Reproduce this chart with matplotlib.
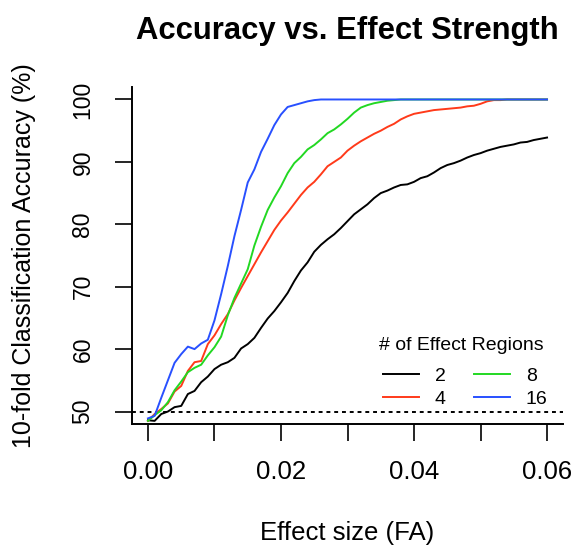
import numpy as np
import matplotlib
matplotlib.use("Agg")
import matplotlib.pyplot as plt

plt.rcParams['font.family'] = ['Liberation Sans', 'DejaVu Sans']

# effect size grid (FA)
effect_size = np.round(np.arange(61) * 0.001, 3)

acc_2 = [48.6, 48.5, 49.6, 50.0, 50.7, 50.9, 52.8, 53.3, 54.7, 55.6,
         56.8, 57.5, 57.9, 58.6, 60.1, 60.8, 61.8, 63.4, 64.9, 66.1,
         67.5, 69.0, 70.9, 72.6, 73.9, 75.6, 76.7, 77.6, 78.4, 79.4,
         80.5, 81.6, 82.4, 83.2, 84.2, 85.0, 85.4, 85.9, 86.3, 86.4,
         86.8, 87.4, 87.7, 88.3, 89.0, 89.5, 89.8, 90.2, 90.7, 91.1,
         91.4, 91.8, 92.1, 92.4, 92.6, 92.8, 93.1, 93.2, 93.5, 93.7,
         93.9]
acc_4 = [48.5, 49.6, 50.4, 51.3, 53.2, 54.1, 56.5, 57.9, 58.1, 60.8,
         62.2, 64.0, 65.6, 67.8, 69.8, 71.7, 73.6, 75.5, 77.3, 79.1,
         80.6, 81.9, 83.3, 84.7, 85.9, 86.8, 88.0, 89.3, 90.0, 90.7,
         91.8, 92.6, 93.3, 93.9, 94.5, 95.0, 95.6, 96.1, 96.8, 97.3,
         97.7, 97.9, 98.1, 98.3, 98.4, 98.5, 98.6, 98.7, 98.9, 99.0,
         99.3, 99.7, 99.9, 99.9, 100.0, 100.0, 100.0, 100.0, 100.0, 100.0,
         100.0]
acc_8 = [48.5, 49.4, 50.2, 51.5, 53.4, 54.8, 56.3, 57.0, 57.5, 59.0,
         60.3, 62.0, 65.4, 68.2, 70.5, 72.8, 76.6, 79.6, 82.3, 84.3,
         86.1, 88.2, 89.8, 90.8, 92.0, 92.7, 93.6, 94.6, 95.2, 96.0,
         96.9, 97.9, 98.7, 99.1, 99.4, 99.6, 99.8, 99.9, 100.0, 100.0,
         100.0, 100.0, 100.0, 100.0, 100.0, 100.0, 100.0, 100.0, 100.0, 100.0,
         100.0, 100.0, 100.0, 100.0, 100.0, 100.0, 100.0, 100.0, 100.0, 100.0,
         100.0]
acc_16 = [48.9, 49.3, 52.2, 55.0, 57.8, 59.2, 60.4, 60.0, 60.9, 61.5,
          64.6, 68.8, 73.3, 78.1, 82.3, 86.7, 88.8, 91.6, 93.7, 95.9,
          97.6, 98.8, 99.1, 99.4, 99.7, 99.9, 100.0, 100.0, 100.0, 100.0,
          100.0, 100.0, 100.0, 100.0, 100.0, 100.0, 100.0, 100.0, 100.0, 100.0,
          100.0, 100.0, 100.0, 100.0, 100.0, 100.0, 100.0, 100.0, 100.0, 100.0,
          100.0, 100.0, 100.0, 100.0, 100.0, 100.0, 100.0, 100.0, 100.0, 100.0,
          100.0]

region_labels = ["2", "4", "8", "16"]
colors = ["black", "#FF3A1A", "#22D822", "#2850FF"]

x_ticks = [0.00, 0.01, 0.02, 0.03, 0.04, 0.05, 0.06]
x_ticklabels = ["0.00", "", "0.02", "", "0.04", "", "0.06"]
y_ticks = [50, 60, 70, 80, 90, 100]

W, H = 572, 547
fig = plt.figure(figsize=(W / 100, H / 100), dpi=100)
ax = fig.add_axes([132 / W, 1 - 424 / H, (563 - 132) / W, (424 - 87) / H])

ax.axhline(50, color="black", lw=1.4, linestyle=(0, (2, 2)))

lines = []
for vals, lab, col in zip([acc_2, acc_4, acc_8, acc_16], region_labels, colors):
    ln, = ax.plot(effect_size, vals, color=col, lw=1.4, label=lab)
    lines.append(ln)

ax.set_xlim(-0.0024, 0.0624)
ax.set_ylim(48, 102)
ax.spines["top"].set_visible(False)
ax.spines["right"].set_visible(False)
for s in ["left", "bottom"]:
    ax.spines[s].set_linewidth(1.4)

ax.set_xticks(x_ticks)
ax.set_xticklabels(x_ticklabels, fontsize=18.5)
ax.set_yticks(y_ticks)
ax.set_yticklabels([str(v) for v in y_ticks], fontsize=16.5, rotation=90, va="center")
ax.tick_params(axis="both", direction="out", length=12, width=1.2)
ax.tick_params(axis="x", pad=14)
ax.tick_params(axis="y", pad=15)

fig.text(347.5 / W, 1 - 38.5 / H, "Accuracy vs. Effect Strength", ha="center",
         va="baseline", fontsize=22.3, fontweight="bold")
fig.text(347.5 / W, 1 - 533 / H, "Effect size (FA)", ha="center", va="center", fontsize=18.5)
fig.text(24 / W, 1 - 255.5 / H, "10-fold Classification Accuracy (%)", ha="center",
         va="center", rotation=90, fontsize=18)

# legend title placed on its own, entries below in two columns
fig.text(461 / W, 1 - 345 / H, "# of Effect Regions", ha="center", va="center", fontsize=14)
leg = ax.legend(handles=lines, ncol=2, frameon=False, fontsize=14,
                loc="upper left", bbox_to_anchor=(383 / W, 1 - 367 / H),
                bbox_transform=fig.transFigure, borderpad=0, borderaxespad=0,
                handlelength=1.86, handletextpad=0.8, columnspacing=1.45,
                labelspacing=0.3)

fig.savefig("out.png", dpi=100)
